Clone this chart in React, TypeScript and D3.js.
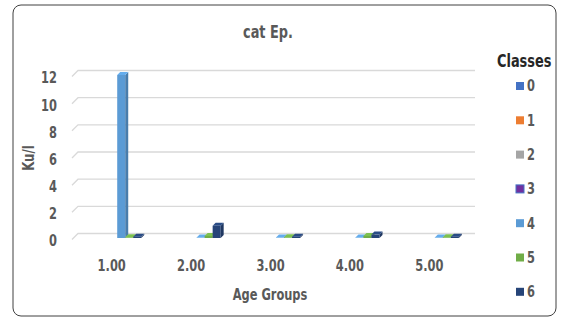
import { scaleBand, scaleLinear, color } from "d3";

const categories = ["1.00", "2.00", "3.00", "4.00", "5.00"];
const classes = ["0", "1", "2", "3", "4", "5", "6"];
const classColors = ["#4472C4", "#ED7D31", "#A5A5A5", "#7030A0", "#5B9BD5", "#70AD47", "#264478"];
// classes 0-3 have no values, 4-6 are read off the picture
const class0 = [null, null, null, null, null];
const class1 = [null, null, null, null, null];
const class2 = [null, null, null, null, null];
const class3 = [null, null, null, null, null];
const class4 = [12, 0.03, 0.03, 0.03, 0.03];
const class5 = [0.05, 0.15, 0.05, 0.15, 0.05];
const class6 = [0.1, 0.9, 0.1, 0.25, 0.1];
const yTicks = [0, 2, 4, 6, 8, 10, 12];

const series = [class0, class1, class2, class3, class4, class5, class6];

const W = 563;
const H = 318;
const font = "'DejaVu Sans Condensed', 'DejaVu Sans', sans-serif";
const grey = "#595959";
const squeeze = 0.82; // the picture's text is narrow and tall

// back wall of the 3d box
const wallLeft = 78;
const wallRight = 475;
const wallZero = 233.5;
const wallTop = 70.5;
// front of the box is shifted down-left
const depthX = -6;
const depthY = 6;
// bar depth
const barDX = 3;
const barDY = 3;

const Txt = ({ x, y, anchor = "middle", size = 15.5, fill = grey, rotate = 0, children }: any) => (
  <text
    transform={`translate(${x},${y}) rotate(${rotate}) scale(${squeeze},1)`}
    textAnchor={anchor}
    dominantBaseline="central"
    fontSize={size}
    fontWeight="bold"
    fill={fill}
  >
    {children}
  </text>
);

export default function App() {
  const x = scaleBand<string>().domain(categories).range([wallLeft, wallRight]);
  const xs = scaleBand<string>()
    .domain(classes)
    .range([0, x.bandwidth()])
    .paddingInner(0)
    .paddingOuter(1.45);
  const yWall = scaleLinear().domain([0, 12]).range([wallZero, wallTop]);
  // bars stand in the middle of the depth
  const y = scaleLinear()
    .domain([0, 12])
    .range([wallZero + depthY / 2 + barDY / 2, wallTop + depthY / 2 + barDY / 2]);
  const bx = (cat: string, cls: string) => (x(cat) as number) + (xs(cls) as number) + depthX / 2 - barDX / 2;

  const bars: any[] = [];
  series.forEach((vals, si) => {
    vals.forEach((v, ci) => {
      if (v === null) return;
      const c = classColors[si];
      const x0 = bx(categories[ci], classes[si]);
      const w = xs.bandwidth();
      const y0 = y(v);
      const yb = y(0);
      const side = color(c)!.darker(0.6).formatHex();
      const top = color(c)!.brighter(0.3).formatHex();
      bars.push(
        <g key={`${si}-${ci}`}>
          <rect x={x0} y={y0} width={w} height={Math.max(0, yb - y0)} fill={c} />
          <polygon
            points={`${x0 + w},${y0} ${x0 + w + barDX},${y0 - barDY} ${x0 + w + barDX},${yb - barDY} ${x0 + w},${yb}`}
            fill={side}
          />
          <polygon
            points={`${x0},${y0} ${x0 + barDX},${y0 - barDY} ${x0 + w + barDX},${y0 - barDY} ${x0 + w},${y0}`}
            fill={top}
          />
        </g>
      );
    });
  });

  return (
    <svg
      width={W}
      height={H}
      style={{ position: "absolute", left: 0, top: 0, background: "#fff" }}
      fontFamily={font}
    >
      <rect x={13} y={5} width={543} height={311} rx={8} fill="#fff" stroke="#404040" strokeWidth={1} />
      <Txt x={268} y={32} size={17.5}>
        cat Ep.
      </Txt>

      {yTicks.map((t) => (
        <g key={t}>
          <polyline
            points={`${wallLeft + depthX},${yWall(t) + depthY} ${wallLeft},${yWall(t)} ${wallRight},${yWall(t)}`}
            fill="none"
            stroke="#d9d9d9"
            strokeWidth={1.3}
          />
          <Txt x={57} y={yWall(t) + depthY + 1.5} anchor="end">
            {t}
          </Txt>
        </g>
      ))}

      {bars}

      {categories.map((c) => (
        <Txt key={c} x={(x(c) as number) + x.bandwidth() / 2 + depthX} y={266}>
          {c}
        </Txt>
      ))}

      <Txt x={270} y={295}>
        Age Groups
      </Txt>
      <Txt x={28} y={158} rotate={-90} size={16}>
        Ku/l
      </Txt>

      <Txt x={497} y={61} anchor="start" size={17.5} fill="#262626">
        Classes
      </Txt>
      {classes.map((c, i) => (
        <g key={c} transform={`translate(516,${86 + i * 34.3})`}>
          <rect
            x={0}
            y={-4}
            width={8}
            height={8}
            fill={classColors[i]}
            stroke={i === 3 ? "#4472C4" : "none"}
            strokeWidth={1}
          />
          <Txt x={11} y={0} anchor="start">
            {c}
          </Txt>
        </g>
      ))}
    </svg>
  );
}
